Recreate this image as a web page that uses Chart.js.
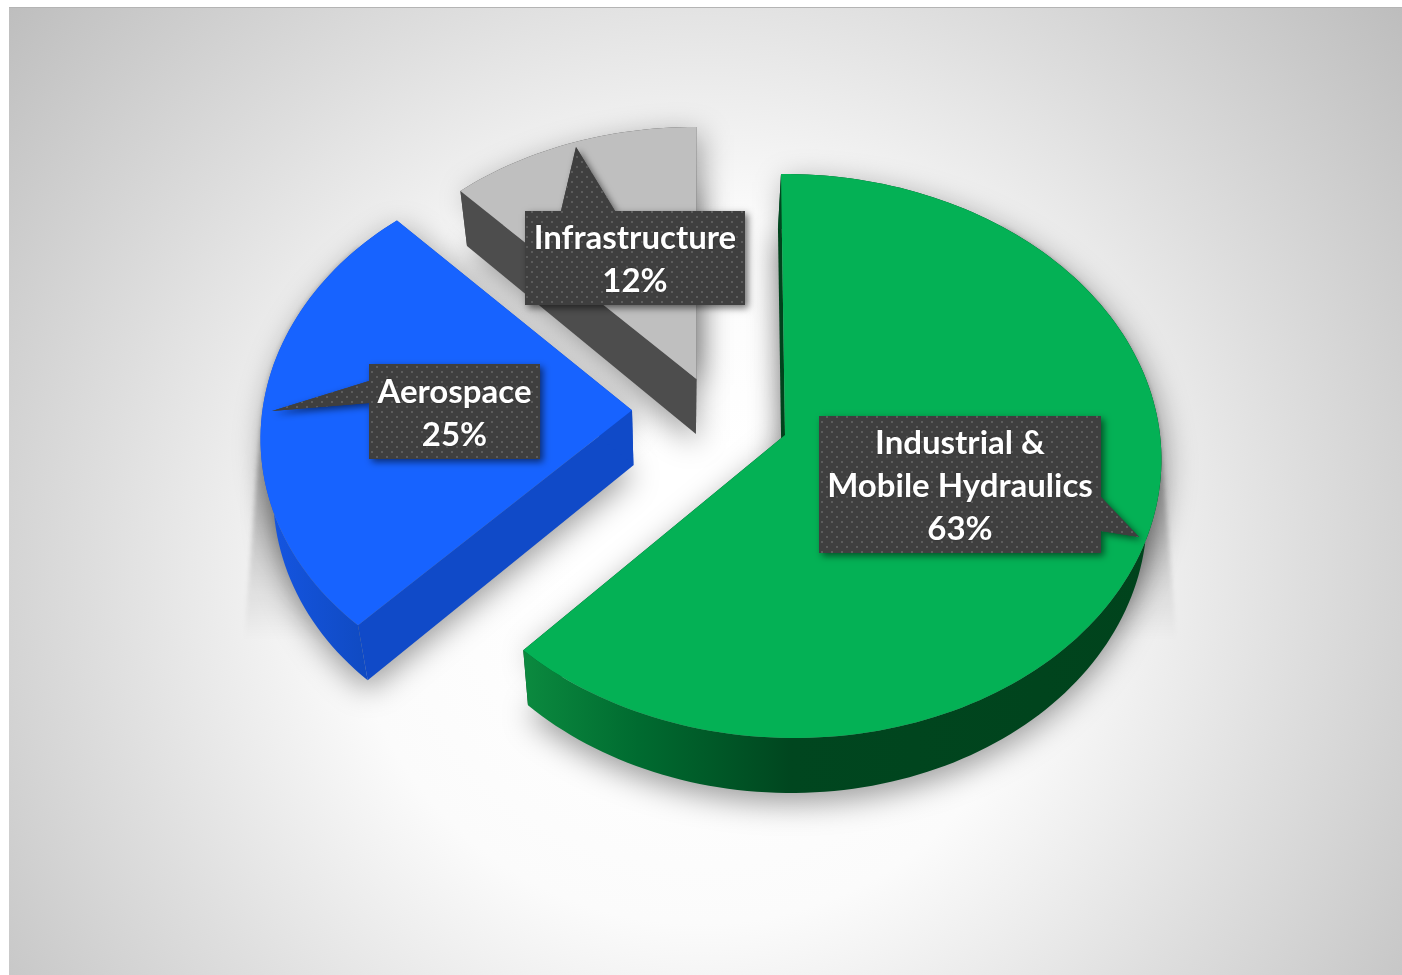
<!DOCTYPE html>
<html>
<head>
<meta charset="utf-8">
<title>Market share</title>
<script src="https://cdn.jsdelivr.net/npm/chart.js@4"></script>
<style>
  html, body { margin: 0; padding: 0; background: #fff; overflow: hidden; }
  canvas { display: block; }
</style>
</head>
<body>
<canvas id="pie" width="1402" height="975"></canvas>
<script>
// data
const categories = [["Industrial &", "Mobile Hydraulics"], ["Aerospace"], ["Infrastructure"]];
const shares = [63, 25, 12];

// styling of the slices
const topColors = ["#04b155", "#1763ff", "#bfbfbf"];
const rimStops = [
    [[0, "#0b8a3f"], [0.18, "#006b30"], [0.42, "#00461f"], [1, "#00431c"]],
    [[0, "#1556e4"], [1, "#0e47b8"]],
    [[0, "#4d4d4d"], [1, "#4d4d4d"]]
];
const sideColors = ["#00431c", "#104ac8", "#4d4d4d"];
const explode = [96, 96, 55];
const shadeRange = [[1000, 1402], [0, 360], null];

// callouts: box x, y, w, h, pointer base a, base b, tip
const callouts = [
    { x: 819, y: 416, w: 282, h: 137, a: [1101, 497], b: [1101, 531], tip: [1139, 537] },
    { x: 369, y: 364, w: 171, h: 95, a: [369, 381], b: [369, 403], tip: [272, 411] },
    { x: 525, y: 211, w: 220, h: 94, a: [561, 211], b: [615, 211], tip: [576, 147] }
];

// view of the pie plane, radius = 1, measured from the first slice's apex
const view = { ox: 785, oy: 435, a: 357, b: 4.3, c: -26.7, d: 280.4, g: -0.0472, h: -0.0745 };
// the slices were not photographed from quite the same angle
const sliceViews = [
    { a: 370.8, b: 4.3, c: 0, d: 280.4, g: -0.0113, h: -0.0745, sweep: 0.983, dx: 0, dy: 0 },
    { a: 333.6, b: 4.6, c: -9.1, d: 265.4, g: 0.1, h: -0.0745, sweep: 1, dx: -7, dy: -10 },
    { a: 363.5, b: 0, c: 1.2, d: 270.8, g: 0, h: -0.0745, sweep: 1, dx: -2, dy: -7 }
];
const wallHeight = 55;
const wallLean = 0.03;
const vanishX = 680;

function project(vw, u, v) {
    const w = 1 + vw.g * u + vw.h * v;
    return [(vw.a * u + vw.b * v) / w, (vw.c * u + vw.d * v) / w];
}

function lower(p) {
    return [p[0] + (vanishX - p[0]) * wallLean, p[1] + wallHeight];
}

function sliceOutline(chart, i) {
    const meta = chart.getDatasetMeta(0);
    const arc = meta.data[i];
    const first = meta.data[0];
    const vw = sliceViews[i];
    const shift = (el) => {
        const mid = (el.startAngle + el.endAngle) / 2;
        const k = el.options.offset / el.outerRadius;
        return [Math.cos(mid) * k, Math.sin(mid) * k];
    };
    const s = shift(arc), f = shift(first);
    const moved = project(view, s[0] - f[0], s[1] - f[1]);
    const ax = view.ox + moved[0] + vw.dx, ay = view.oy + moved[1] + vw.dy;
    const rim = [];
    const span = (arc.endAngle - arc.startAngle) * vw.sweep;
    const steps = Math.ceil(span * 40);
    for (let n = 0; n <= steps; n++) {
        const t = arc.startAngle + span * n / steps;
        const p = project(vw, Math.cos(t), Math.sin(t));
        rim.push([ax + p[0], ay + p[1]]);
    }
    return { rim, apex: [ax, ay], color: arc.options.backgroundColor };
}

function tracePoly(ctx, pts) {
    ctx.beginPath();
    pts.forEach((p, n) => n ? ctx.lineTo(p[0], p[1]) : ctx.moveTo(p[0], p[1]));
    ctx.closePath();
}

function drawShadows(ctx, shape, i) {
    // soft drop shadow
    ctx.save();
    ctx.filter = "blur(15px)";
    ctx.fillStyle = "rgba(0,0,0,0.38)";
    const outline = shape.rim.concat([shape.apex]);
    tracePoly(ctx, outline.map(lower).map(p => [p[0], p[1] + 10]));
    ctx.fill();
    tracePoly(ctx, outline.map(p => [p[0] + 4, p[1] + 8]));
    ctx.fill();
    ctx.restore();

    // the long shade that hangs under the pie and fades out
    if (!shadeRange[i]) return;
    const layer = document.createElement("canvas");
    layer.width = ctx.canvas.width;
    layer.height = ctx.canvas.height;
    const lc = layer.getContext("2d");
    lc.fillStyle = "#000";
    for (let n = 0; n <= 50; n++) {
        const t = n / 50;
        tracePoly(lc, outline.map(p => [710 + (p[0] - 710) * (1 + 0.045 * t), p[1] + 260 * t]));
        lc.fill();
    }
    lc.globalCompositeOperation = "destination-in";
    const fade = lc.createLinearGradient(0, 470, 0, 640);
    fade.addColorStop(0, "rgba(0,0,0,0.24)");
    fade.addColorStop(1, "rgba(0,0,0,0)");
    lc.fillStyle = fade;
    lc.fillRect(0, 0, layer.width, layer.height);
    lc.globalCompositeOperation = "destination-out";
    lc.fillStyle = "#000";
    lc.fillRect(0, 0, shadeRange[i][0], layer.height);
    lc.fillRect(shadeRange[i][1], 0, layer.width, layer.height);
    ctx.save();
    ctx.filter = "blur(2px)";
    ctx.drawImage(layer, 0, 0);
    ctx.restore();
}

function drawSlice(ctx, shape, i) {
    const rim = shape.rim;
    const apex = shape.apex;
    const lowRim = rim.map(lower);

    // straight walls
    ctx.fillStyle = sideColors[i];
    [[rim[0], apex], [apex, rim[rim.length - 1]]].forEach(e => {
        tracePoly(ctx, [e[0], e[1], lower(e[1]), lower(e[0])]);
        ctx.fill();
    });

    // curved wall
    const xs = rim.map(p => p[0]);
    const grad = ctx.createLinearGradient(Math.min(...xs), 0, Math.max(...xs), 0);
    rimStops[i].forEach(s => grad.addColorStop(s[0], s[1]));
    ctx.fillStyle = grad;
    tracePoly(ctx, rim.concat(lowRim.slice().reverse()));
    ctx.fill();

    // top face
    ctx.fillStyle = shape.color;
    tracePoly(ctx, rim.concat([apex]));
    ctx.fill();
}

function dotPattern(ctx) {
    const cell = document.createElement("canvas");
    cell.width = 10;
    cell.height = 10;
    const c = cell.getContext("2d");
    c.fillStyle = "#3f3f3f";
    c.fillRect(0, 0, 10, 10);
    c.fillStyle = "#5c5c5c";
    c.fillRect(1, 1, 2, 2);
    c.fillRect(6, 6, 2, 2);
    return ctx.createPattern(cell, "repeat");
}

function drawCallout(ctx, box, lines) {
    const path = [
        [box.x, box.y], [box.x + box.w, box.y], [box.x + box.w, box.y + box.h], [box.x, box.y + box.h]
    ];
    ctx.save();
    ctx.shadowColor = "rgba(0,0,0,0.55)";
    ctx.shadowBlur = 7;
    ctx.shadowOffsetX = 3;
    ctx.shadowOffsetY = 3;
    ctx.fillStyle = "#3f3f3f";
    tracePoly(ctx, path);
    ctx.fill();
    tracePoly(ctx, [box.a, box.tip, box.b]);
    ctx.fill();
    ctx.restore();

    ctx.fillStyle = dotPattern(ctx);
    tracePoly(ctx, path);
    ctx.fill();
    tracePoly(ctx, [box.a, box.tip, box.b]);
    ctx.fill();

    ctx.save();
    ctx.font = "bold 33px Lato";
    ctx.textAlign = "center";
    ctx.textBaseline = "middle";
    ctx.fillStyle = "#fff";
    ctx.shadowColor = "rgba(0,0,0,0.4)";
    ctx.shadowBlur = 2;
    const midY = box.y + box.h / 2 + 2;
    lines.forEach((line, n) => {
        ctx.fillText(line, box.x + box.w / 2, midY + (n - (lines.length - 1) / 2) * 43);
    });
    ctx.restore();
}

const backdrop = {
    id: "backdrop",
    beforeDraw(chart) {
        const ctx = chart.ctx;
        const g = ctx.createRadialGradient(700, 570, 120, 700, 570, 900);
        g.addColorStop(0, "#ffffff");
        g.addColorStop(0.3, "#fbfbfb");
        g.addColorStop(0.62, "#dedede");
        g.addColorStop(1, "#bdbdbd");
        ctx.fillStyle = g;
        ctx.fillRect(9, 7, 1393, 968);
        ctx.fillStyle = "#b4b4b4";
        ctx.fillRect(9, 7, 1393, 1);
    }
};

const pie3d = {
    id: "pie3d",
    beforeDatasetsDraw(chart) {
        const ctx = chart.ctx;
        const shapes = shares.map((v, i) => sliceOutline(chart, i));
        shapes.forEach((s, i) => drawShadows(ctx, s, i));
        [2, 1, 0].forEach(i => drawSlice(ctx, shapes[i], i));
        return false;
    },
    afterDraw(chart) {
        const ctx = chart.ctx;
        chart.data.labels.forEach((label, i) => {
            drawCallout(ctx, callouts[i], label.concat([shares[i] + "%"]));
        });
    }
};

new Chart(document.getElementById("pie"), {
    type: "pie",
    data: {
        labels: categories,
        datasets: [{
            data: shares,
            backgroundColor: topColors,
            offset: explode,
            borderWidth: 0
        }]
    },
    options: {
        responsive: false,
        animation: false,
        plugins: {
            legend: { display: false },
            tooltip: { enabled: false }
        }
    },
    plugins: [backdrop, pie3d]
});
</script>
</body>
</html>
